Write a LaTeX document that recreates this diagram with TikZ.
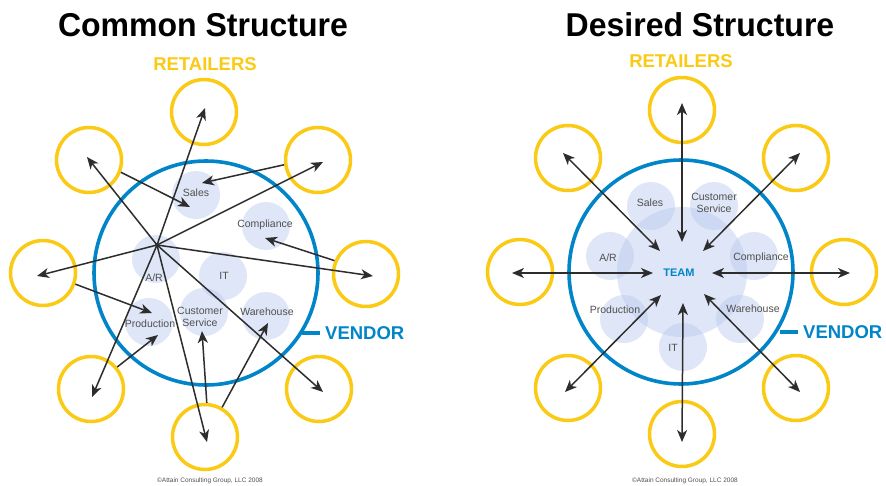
\documentclass[tikz,border=0pt]{standalone}
\usepackage{fontspec}
\setmainfont{Liberation Sans}
\usepackage{graphicx}
\usetikzlibrary{arrows.meta,calc}
\definecolor{ylw}{RGB}{250,202,20}
\definecolor{blu}{RGB}{0,133,200}
\definecolor{ln}{RGB}{45,45,45}
\definecolor{txt}{RGB}{80,80,80}
\definecolor{bub}{RGB}{185,200,238}
\begin{document}
\begin{tikzpicture}[x=1pt,y=-1pt,
  retail/.style={circle,draw=ylw,line width=3.5pt,minimum size=65pt,inner sep=0pt},
  vendorc/.style={circle,draw=blu,line width=3.6pt,minimum size=224pt,inner sep=0pt},
  bubble/.style={circle,fill=bub,fill opacity=0.45,minimum size=48pt,inner sep=0pt},
  teamb/.style={circle,fill=bub,fill opacity=0.45,minimum size=130pt,inner sep=0pt},
  lbl/.style={font=\fontsize{10.5}{12}\selectfont,text=txt,inner sep=0pt,align=center},
  title/.style={font=\fontsize{33}{38}\bfseries\selectfont,text=black,inner sep=0pt,anchor=base},
  ret/.style={font=\fontsize{18.5}{20}\bfseries\selectfont,text=ylw,inner sep=0pt,anchor=base},
  ven/.style={font=\fontsize{18.5}{20}\bfseries\selectfont,text=blu,inner sep=0pt,anchor=west},
  tick/.style={draw=blu,line width=3.5pt},
  copyr/.style={font=\fontsize{6.5}{8}\selectfont,text=txt,inner sep=0pt,anchor=base},
  arr/.style={draw=ln,line width=1.5pt,-{Stealth[length=12pt,width=10pt,inset=3.5pt]}},
  darr/.style={draw=ln,line width=1.5pt,{Stealth[length=12pt,width=10pt,inset=3.5pt]}-{Stealth[length=12pt,width=10pt,inset=3.5pt]}}
]
\useasboundingbox (0,0) rectangle (886,485);
\fill[white] (0,0) rectangle (886,485);

% ---------------- titles ----------------
\node[title] (t1) at (203,36) {\scalebox{0.97}[1]{Common Structure}};
\node[title] (t2) at (700,36) {\scalebox{0.97}[1]{Desired Structure}};
\node[ret] (r1) at (205,70.5) {RETAILERS};
\node[ret] (r2) at (681,67.5) {RETAILERS};

% ================= LEFT: common structure =================
\node[bubble] (Lsales) at (196,195) {};
\node[bubble] (Lcomp) at (266,226) {};
\node[bubble] (Lar) at (156,259) {};
\node[bubble] (Lit) at (223,276) {};
\node[bubble] (Lcs) at (204,312) {};
\node[bubble] (Lwh) at (266,316) {};
\node[bubble] (Lprod) at (149,322) {};

\node[lbl] (LsalesT) at (196,193) {Sales};
\node[lbl] (LcompT) at (265,225) {Compliance};
\node[lbl] (LarT) at (154,278) {A/R};
\node[lbl] (LitT) at (224,276) {IT};
\node[lbl] (LcsT) at (200,317) {Customer\\Service};
\node[lbl] (LwhT) at (267,312) {Warehouse};
\node[lbl] (LprodT) at (150,324) {Production};

\node[vendorc] (LV) at (206,273) {};
\draw[tick] (302,333) -- (320,333);
\node[ven] (LVT) at (325,333) {VENDOR};

\node[retail] (Ltop) at (204,112) {};
\node[retail] (Lul) at (89,160) {};
\node[retail] (Lur) at (318,160) {};
\node[retail] (Llf) at (43,273) {};
\node[retail] (Lrt) at (366,274) {};
\node[retail] (Lll) at (91,389) {};
\node[retail] (Lbt) at (205,437) {};
\node[retail] (Llr) at (319,389) {};

\coordinate (H) at (157,245);
\draw[arr] (H) -- ($(Ltop)+(1,-4)$);
\draw[arr] (H) -- ($(Lul)+(-2,-3)$);
\draw[arr] (H) -- ($(Lur)+(5,2)$);
\draw[arr] (H) -- ($(Llf)+(-6,3)$);
\draw[arr] (H) -- ($(Lrt)+(7,2)$);
\draw[arr] (H) -- ($(Lll)+(1,8)$);
\draw[arr] (H) -- ($(Lbt)+(2,5)$);
\draw[arr] (H) -- ($(Llr)+(4,3)$);
\fill[ln] (H) circle (2pt);

\draw[arr] (Lul.-21) -- ($(Lsales)+(-6,12)$);
\draw[arr] (Lur.188) -- ($(Lsales)+(6,-12)$);
\draw[arr] (Lrt.157) -- ($(Lcomp)+(-1,12)$);
\draw[arr] (Llf.-19) -- ($(Lprod)+(3,-9)$);
\draw[arr] (Lll.40) -- ($(Lprod)+(9,13)$);
\draw[arr] (Lbt.87) -- ($(Lcs)+(-2,19)$);
\draw[arr] (Lbt.60) -- ($(Lwh)+(2,7)$);

% ================= RIGHT: desired structure =================
\node[teamb] (Rteam) at (682,272) {};
\node[bubble] (Rsales) at (651,206) {};
\node[bubble] (Rcs) at (714,206) {};
\node[bubble] (Rcomp) at (754,256) {};
\node[bubble] (Rwh) at (740,319) {};
\node[bubble] (Rit) at (683,347) {};
\node[bubble] (Rprod) at (624,319) {};
\node[bubble] (Rar) at (610,256) {};

\node[lbl] (RsalesT) at (650,203) {Sales};
\node[lbl] (RcsT) at (714,202.5) {Customer\\Service};
\node[lbl] (RcompT) at (761,258) {Compliance};
\node[lbl] (RwhT) at (753,309) {Warehouse};
\node[lbl] (RitT) at (673,348) {IT};
\node[lbl] (RprodT) at (615,310) {Production};
\node[lbl] (RarT) at (608,258) {A/R};
\node[font=\fontsize{11}{12}\bfseries\selectfont,text=blu,inner sep=0pt] (RteamT) at (679,273) {TEAM};

\node[vendorc] (RV) at (681,272) {};
\draw[tick] (780,332) -- (798,332);
\node[ven] (RVT) at (803,332) {VENDOR};

\node[retail] (Rtop) at (682,110) {};
\node[retail] (Rul) at (568,158) {};
\node[retail] (Rur) at (796,158) {};
\node[retail] (Rlf) at (520,272) {};
\node[retail] (Rrt) at (844,272) {};
\node[retail] (Rll) at (568,388) {};
\node[retail] (Rbt) at (682,434) {};
\node[retail] (Rlr) at (796,388) {};

\draw[darr] ($(Rteam)+(0,-30)$) -- ($(Rtop)+(0,-7)$);
\draw[darr] ($(Rteam)+(-22,-21)$) -- ($(Rul)+(-5,-5)$);
\draw[darr] ($(Rteam)+(21,-21)$) -- ($(Rur)+(4,-5)$);
\draw[darr] ($(Rteam)+(-29,1)$) -- ($(Rlf)+(-8,1)$);
\draw[darr] ($(Rteam)+(30,1)$) -- ($(Rrt)+(6,1)$);
\draw[darr] ($(Rteam)+(-21,23)$) -- ($(Rll)+(-3,4)$);
\draw[darr] ($(Rteam)+(1,31)$) -- ($(Rbt)+(0,8)$);
\draw[darr] ($(Rteam)+(22,22)$) -- ($(Rlr)+(4,4)$);

% ---------------- copyright ----------------
\node[copyr] (c1) at (210,482.5) {\textcopyright Attain Consulting Group, LLC 2008};
\node[copyr] (c2) at (685,482.5) {\textcopyright Attain Consulting Group, LLC 2008};
\end{tikzpicture}
\end{document}
